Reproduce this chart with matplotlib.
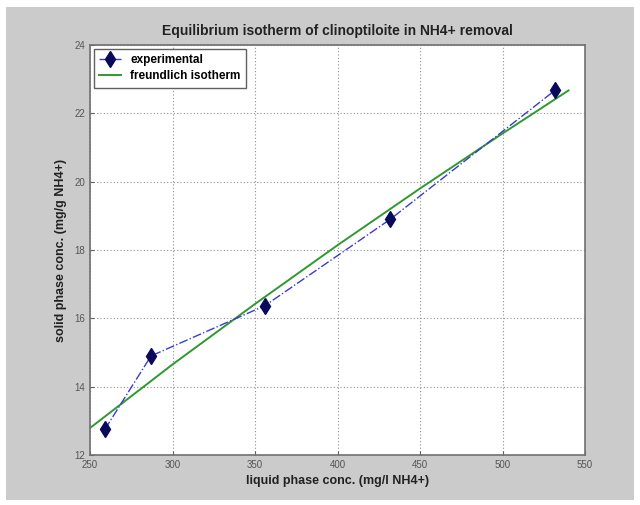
import matplotlib
matplotlib.use("Agg")
import matplotlib.pyplot as plt
from matplotlib.patches import Rectangle

# ============================================================
# data
# ============================================================

# experimental points
liquid_conc = [259, 287, 356, 432, 532]
solid_conc = [12.75, 14.9, 16.37, 18.9, 22.68]

# freundlich isotherm curve
fit_liquid = [250, 300, 350, 400, 450, 500, 540]
fit_solid = [12.79, 14.65, 16.42, 18.14, 19.80, 21.41, 22.67]

x_ticks = [250, 300, 350, 400, 450, 500, 550]
y_ticks = [12, 14, 16, 18, 20, 22, 24]

plt.rcParams["font.family"] = ["Liberation Sans", "DejaVu Sans"]

# ============================================================
# figure
# ============================================================

fig = plt.figure(figsize=(6.4, 5.05), dpi=100)
fig.patch.set_facecolor("white")

# gray window background
fig.patches.append(Rectangle((6 / 640, 1 - 500 / 505), 628 / 640, 493 / 505,
                             transform=fig.transFigure, facecolor="#cbcbcb",
                             edgecolor="none", zorder=-10))

ax = fig.add_axes([90 / 640, 1 - 455 / 505, 495 / 640, 410 / 505])
ax.set_facecolor("white")

ax.plot(liquid_conc, solid_conc, linestyle="-.", color="#3a3ad8", linewidth=1.0,
        marker="d", markersize=8.5, markerfacecolor="#0a0a5a",
        markeredgecolor="#0a0a5a", label="experimental", zorder=3)
ax.plot(fit_liquid, fit_solid, color="#2e9a2e", linewidth=1.4,
        label="freundlich isotherm", zorder=2)

ax.set_xlim(250, 550)
ax.set_ylim(12, 24)
ax.set_xticks(x_ticks)
ax.set_yticks(y_ticks)
ax.tick_params(labelsize=7, colors="#606060", length=3, direction="in")
for t in ax.get_xticklabels() + ax.get_yticklabels():
    t.set_color("#555555")

ax.grid(True, linestyle=(0, (1, 2)), color="#909090", linewidth=0.8)
for s in ax.spines.values():
    s.set_color("#707070")
    s.set_linewidth(1.2)

ax.set_title("Equilibrium isotherm of clinoptiloite in NH4+ removal",
             fontsize=10, fontweight="bold", color="#222222", pad=7)
ax.set_xlabel("liquid phase conc. (mg/l NH4+)", fontsize=9,
              fontweight="bold", color="#222222", labelpad=4)
ax.set_ylabel("solid phase conc. (mg/g NH4+)", fontsize=9,
              fontweight="bold", color="#222222", labelpad=5)

leg = ax.legend(loc="upper left", frameon=True, fancybox=False,
                borderaxespad=0.3, handlelength=1.8, borderpad=0.5,
                labelspacing=0.3, markerscale=0.9,
                prop={"weight": "bold", "size": 8.5})
leg.get_frame().set_edgecolor("#606060")
leg.get_frame().set_linewidth(1.0)
leg.get_frame().set_alpha(1.0)

fig.savefig("out.png", dpi=100)
